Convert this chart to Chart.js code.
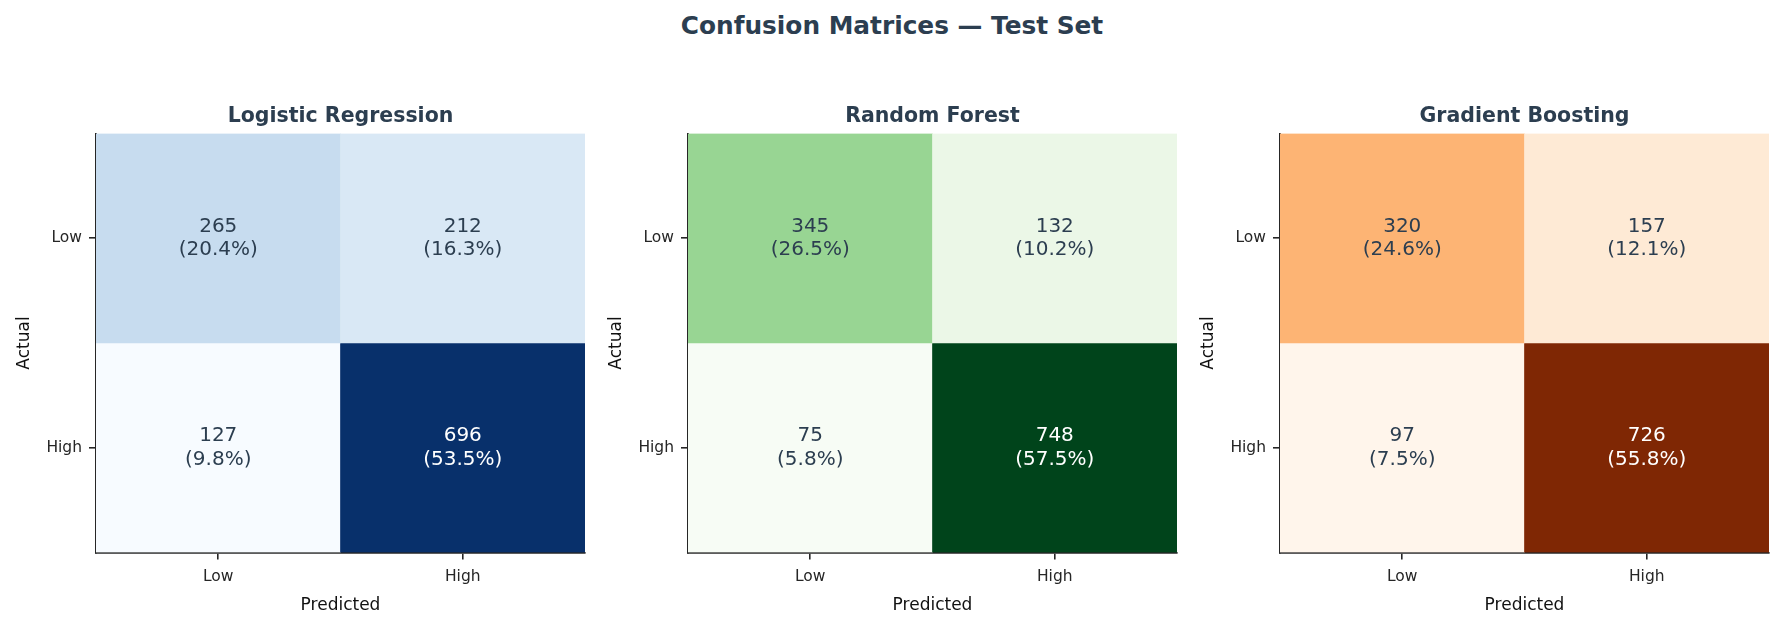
<!DOCTYPE html>
<html>
<head>
<meta charset="utf-8">
<script src="https://cdn.jsdelivr.net/npm/chart.js@4.4.0/dist/chart.umd.min.js"></script>
<style>
  body { margin: 0; background: #fff; }
  #wrap { position: relative; width: 1784px; height: 628px; overflow: hidden; background: #fff; }
  #title { position: absolute; left: 0; top: 11px; width: 1784px; text-align: center;
           font: bold 24.8px 'DejaVu Sans'; line-height: 30px; color: #2c3e50; }
  canvas { position: absolute; top: 0; }
</style>
</head>
<body>
<div id="wrap">
  <div id="title">Confusion Matrices — Test Set</div>
  <canvas id="c0" width="592" height="628" style="left:0px"></canvas>
  <canvas id="c1" width="592" height="628" style="left:592px"></canvas>
  <canvas id="c2" width="592" height="628" style="left:1184px"></canvas>
</div>
<script>
// data
const modelNames = ['Logistic Regression', 'Random Forest', 'Gradient Boosting']
const classLabels = ['Low', 'High']
const logregCounts = [[265, 212], [127, 696]]
const forestCounts = [[345, 132], [75, 748]]
const boostCounts = [[320, 157], [97, 726]]

// colormap stops (Blues, Greens, Oranges)
const blues = ['#f7fbff','#deebf7','#c6dbef','#9ecae1','#6baed6','#4292c6','#2171b5','#08519c','#08306b']
const greens = ['#f7fcf5','#e5f5e0','#c7e9c0','#a1d99b','#74c476','#41ab5d','#238b45','#006d2c','#00441b']
const oranges = ['#fff5eb','#fee6ce','#fdd0a2','#fdae6b','#fd8d3c','#f16913','#d94801','#a63603','#7f2704']

const darkText = '#2c3e50'
const axisColor = '#262626'

Chart.defaults.font.family = 'DejaVu Sans'

function hexToRgb(h) {
    return [parseInt(h.slice(1, 3), 16), parseInt(h.slice(3, 5), 16), parseInt(h.slice(5, 7), 16)]
}

function cmap(stops, t) {
    let p = Math.min(Math.max(t, 0), 1) * (stops.length - 1)
    let i = Math.min(Math.floor(p), stops.length - 2)
    let f = p - i
    let a = hexToRgb(stops[i]), b = hexToRgb(stops[i + 1])
    return a.map((v, k) => Math.round(v + (b[k] - v) * f))
}

// writes count and share in the middle of each cell
const cellText = {
    id: 'cellText',
    afterDatasetsDraw(chart, args, opts) {
        const ctx = chart.ctx
        ctx.save()
        ctx.font = '20px DejaVu Sans'
        ctx.textAlign = 'center'
        ctx.textBaseline = 'middle'
        chart.data.datasets.forEach((ds, r) => {
            chart.getDatasetMeta(r).data.forEach((bar, c) => {
                let v = opts.counts[r][c]
                let pct = (v / opts.total * 100).toFixed(1)
                let yc = (bar.y + bar.base) / 2
                ctx.fillStyle = ds.textColors[c]
                ctx.fillText(String(v), bar.x, yc - 11.5)
                ctx.fillText('(' + pct + '%)', bar.x, yc + 12)
            })
        })
        ctx.restore()
    }
}

function matrixChart(canvasId, name, counts, stops) {
    let flat = counts.flat()
    let lo = Math.min(...flat), hi = Math.max(...flat)
    let total = flat.reduce((a, b) => a + b, 0)

    let datasets = counts.map((row) => {
        let rgb = row.map(v => cmap(stops, (v - lo) / (hi - lo)))
        return {
            data: row.map(() => 1),
            backgroundColor: rgb.map(c => 'rgb(' + c.join(',') + ')'),
            textColors: rgb.map(c => (0.299 * c[0] + 0.587 * c[1] + 0.114 * c[2]) / 255 < 0.45 ? '#ffffff' : darkText),
            borderWidth: 0,
            barPercentage: 1,
            categoryPercentage: 1
        }
    })

    return new Chart(document.getElementById(canvasId), {
        type: 'bar',
        data: { labels: classLabels, datasets: datasets },
        options: {
            responsive: false,
            animation: false,
            layout: { padding: { left: 0, right: 7, top: 0, bottom: 0 } },
            plugins: {
                legend: { display: false },
                tooltip: { enabled: false },
                title: {
                    display: true,
                    fullSize: false,
                    text: name,
                    color: darkText,
                    font: { size: 20.5, weight: 'bold' },
                    padding: { top: 104.5, bottom: 4.4 }
                },
                cellText: { counts: counts, total: total }
            },
            scales: {
                x: {
                    type: 'category',
                    stacked: true,
                    offset: true,
                    grid: { display: true, drawOnChartArea: false, drawTicks: true, tickLength: 7, offset: false, color: axisColor, lineWidth: 1.6 },
                    border: { display: true, color: axisColor, width: 1.8 },
                    ticks: { color: axisColor, font: { size: 15.5 }, padding: 8.5, maxRotation: 0 },
                    title: { display: true, text: 'Predicted', color: '#111', font: { size: 17 }, padding: { top: 4, bottom: 12.4 } },
                    afterFit(scale) { scale.height = 75.5 }
                },
                y: {
                    type: 'linear',
                    stacked: true,
                    reverse: true,
                    min: 0,
                    max: classLabels.length,
                    grid: { display: true, drawOnChartArea: false, drawTicks: true, tickLength: 7, color: axisColor, lineWidth: 1.6 },
                    border: { display: true, color: axisColor, width: 1.8 },
                    ticks: {
                        color: axisColor,
                        font: { size: 15.5 },
                        padding: 7,
                        callback: (v, i) => classLabels[i]
                    },
                    afterBuildTicks(scale) {
                        scale.ticks = classLabels.map((l, i) => ({ value: i + 0.5 }))
                    },
                    title: { display: true, text: 'Actual', color: '#111', font: { size: 17 }, padding: { top: 14.8, bottom: 4 } },
                    afterFit(scale) { scale.width = 96 }
                }
            }
        },
        plugins: [cellText]
    })
}

matrixChart('c0', modelNames[0], logregCounts, blues)
matrixChart('c1', modelNames[1], forestCounts, greens)
matrixChart('c2', modelNames[2], boostCounts, oranges)
</script>
</body>
</html>
